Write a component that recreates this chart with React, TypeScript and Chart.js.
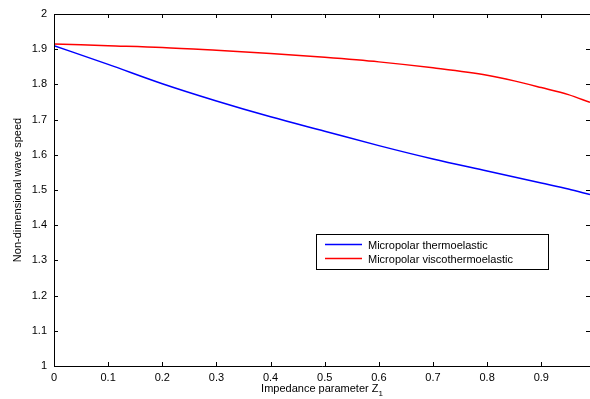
import React, { useEffect, useRef } from "react";
import { Chart, registerables } from "chart.js";

Chart.register(...registerables);

const xValues = [0, 0.1, 0.2, 0.3, 0.4, 0.5, 0.6, 0.7, 0.8, 0.85, 0.9, 0.95, 0.99];
const thermoelastic = [1.91, 1.857, 1.802, 1.753, 1.708, 1.667, 1.626, 1.588, 1.554, 1.537, 1.52, 1.503, 1.487];
const viscothermoelastic = [1.915, 1.91, 1.905, 1.897, 1.888, 1.877, 1.864, 1.847, 1.826, 1.81, 1.791, 1.771, 1.749];
const seriesLabels = ["Micropolar thermoelastic", "Micropolar viscothermoelastic"];
const xTicks = [0, 0.1, 0.2, 0.3, 0.4, 0.5, 0.6, 0.7, 0.8, 0.9];
const yTicks = [1, 1.1, 1.2, 1.3, 1.4, 1.5, 1.6, 1.7, 1.8, 1.9, 2];
const xTitle = "Impedance parameter Z";
const xTitleSub = "1";
const yTitle = "Non-dimensional wave speed";

const FONT = "'Liberation Sans', Arial, sans-serif";

const framePlugin = {
  id: "frame",
  afterDraw(chart: any) {
    const { ctx, chartArea: a, scales } = chart;
    const xs = scales.x;
    const ys = scales.y;
    ctx.save();
    ctx.strokeStyle = "#000";
    ctx.lineWidth = 1;
    ctx.beginPath();
    ctx.rect(Math.round(a.left) + 0.5, Math.round(a.top) + 0.5, Math.round(a.right - a.left), Math.round(a.bottom - a.top));
    ctx.stroke();
    const tl = 4;
    ctx.beginPath();
    xTicks.forEach((v) => {
      const px = Math.round(xs.getPixelForValue(v)) + 0.5;
      ctx.moveTo(px, a.bottom);
      ctx.lineTo(px, a.bottom - tl);
      ctx.moveTo(px, a.top);
      ctx.lineTo(px, a.top + tl);
    });
    yTicks.forEach((v) => {
      const py = Math.round(ys.getPixelForValue(v)) + 0.5;
      ctx.moveTo(a.left, py);
      ctx.lineTo(a.left + tl, py);
      ctx.moveTo(a.right, py);
      ctx.lineTo(a.right - tl, py);
    });
    ctx.stroke();

    // axis titles
    ctx.fillStyle = "#000";
    ctx.font = `11px ${FONT}`;
    ctx.textBaseline = "alphabetic";
    const mainW = ctx.measureText(xTitle).width;
    ctx.font = `8px ${FONT}`;
    const subW = ctx.measureText(xTitleSub).width;
    const totalW = mainW + subW;
    const cx = (a.left + a.right) / 2;
    const tx = cx - totalW / 2;
    ctx.font = `11px ${FONT}`;
    ctx.textAlign = "left";
    ctx.fillText(xTitle, tx, 392);
    ctx.font = `8px ${FONT}`;
    ctx.fillText(xTitleSub, tx + mainW, 396);

    ctx.save();
    ctx.translate(21, (a.top + a.bottom) / 2);
    ctx.rotate(-Math.PI / 2);
    ctx.font = `11px ${FONT}`;
    ctx.textAlign = "center";
    ctx.fillText(yTitle, 0, 0);
    ctx.restore();

    // legend
    const lx = a.left + 262;
    const ly = a.top + 220;
    const lw = 232;
    const lh = 35;
    ctx.fillStyle = "#fff";
    ctx.fillRect(lx, ly, lw, lh);
    ctx.strokeStyle = "#000";
    ctx.strokeRect(lx + 0.5, ly + 0.5, lw, lh);
    ctx.font = `11px ${FONT}`;
    ctx.textAlign = "left";
    ctx.textBaseline = "middle";
    chart.data.datasets.forEach((ds: any, i: number) => {
      const yy = ly + 10.5 + i * 14;
      ctx.strokeStyle = ds.borderColor;
      ctx.lineWidth = 1.5;
      ctx.beginPath();
      ctx.moveTo(lx + 9, yy);
      ctx.lineTo(lx + 46, yy);
      ctx.stroke();
      ctx.fillStyle = "#000";
      ctx.fillText(ds.label, lx + 52, yy + 1);
    });
    ctx.restore();
  },
};

export default function App() {
  const ref = useRef<HTMLCanvasElement | null>(null);
  useEffect(() => {
    document.body.style.margin = "0";
    const canvas = ref.current;
    if (!canvas) return;
    const chart = new Chart(canvas, {
      type: "line",
      data: {
        datasets: [
          {
            label: seriesLabels[0],
            data: xValues.map((x, i) => ({ x, y: thermoelastic[i] })),
            borderColor: "#0000ff",
            borderWidth: 1.5,
            pointRadius: 0,
            cubicInterpolationMode: "monotone",
            fill: false,
          },
          {
            label: seriesLabels[1],
            data: xValues.map((x, i) => ({ x, y: viscothermoelastic[i] })),
            borderColor: "#ff0000",
            borderWidth: 1.5,
            pointRadius: 0,
            cubicInterpolationMode: "monotone",
            fill: false,
          },
        ],
      },
      options: {
        responsive: false,
        animation: false,
        devicePixelRatio: 1,
        layout: { padding: { top: 14, right: 0, left: 0, bottom: 0 } },
        plugins: { legend: { display: false }, tooltip: { enabled: false } },
        scales: {
          x: {
            type: "linear",
            min: 0,
            max: 0.99,
            afterBuildTicks: (s: any) => {
              s.ticks = xTicks.map((v) => ({ value: v }));
            },
            afterFit: (s: any) => {
              s.height = 33;
            },
            grid: { display: false, drawTicks: false },
            border: { display: false },
            ticks: {
              padding: 5,
              color: "#000",
              font: { family: FONT, size: 11 },
              maxRotation: 0,
              callback: (v: any) => String(Number(Number(v).toFixed(1))),
            },
          },
          y: {
            type: "linear",
            min: 1,
            max: 2,
            afterBuildTicks: (s: any) => {
              s.ticks = yTicks.map((v) => ({ value: v }));
            },
            afterFit: (s: any) => {
              s.width = 54;
            },
            grid: { display: false, drawTicks: false },
            border: { display: false },
            ticks: {
              padding: 7,
              color: "#000",
              font: { family: FONT, size: 11 },
              callback: (v: any) => String(Number(Number(v).toFixed(1))),
            },
          },
        },
      },
      plugins: [framePlugin],
    } as any);
    return () => chart.destroy();
  }, []);
  return (
    <div style={{ width: 590, height: 399, background: "#fff" }}>
      <canvas ref={ref} width={590} height={399} />
    </div>
  );
}
